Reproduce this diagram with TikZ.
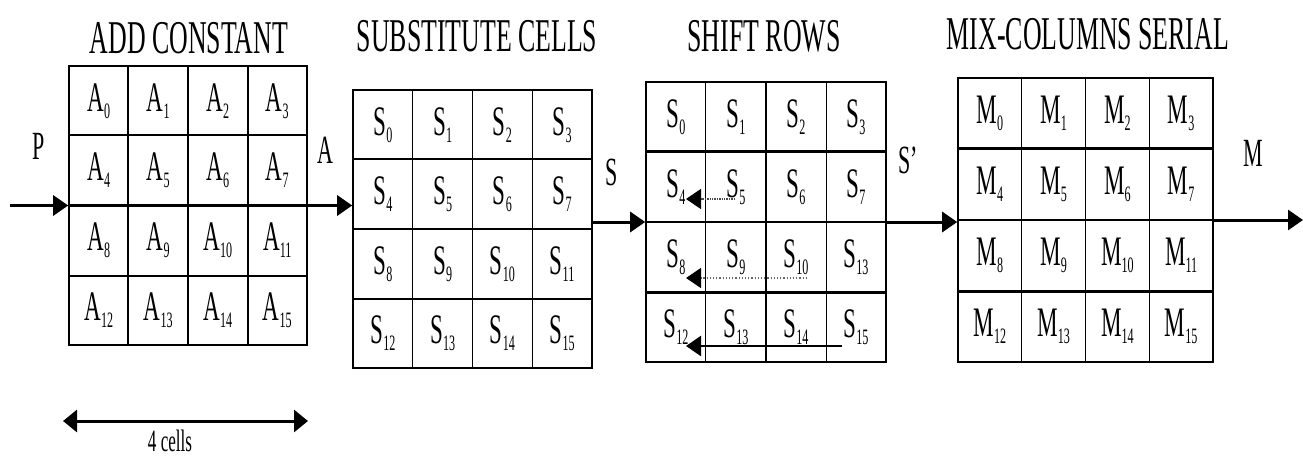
\documentclass[tikz,border=0pt]{standalone}
\usepackage{fontspec}
\setmainfont{Liberation Serif}[FakeStretch=0.55]
\usetikzlibrary{arrows.meta,calc}
\newcommand\lowsub[1]{\raisebox{-7pt}{\fontsize{22}{22}\selectfont #1}}
\tikzset{
  gridbox/.style={draw, line width=1.6pt, inner sep=0pt},
  cell/.style={font=\fontsize{42}{42}\selectfont, inner sep=0pt},
  ttl/.style={font=\fontsize{47}{47}\selectfont, inner sep=0pt},
  lbl/.style={font=\fontsize{40}{40}\selectfont, inner sep=0pt},
  hline/.style={line width=2.2pt},
  vline/.style={line width=1.3pt},
  arr/.style={line width=3pt, -{Triangle[length=15pt,width=20pt]}},
  dblarr/.style={line width=3pt, {Triangle[length=14pt,width=22pt]}-{Triangle[length=14pt,width=22pt]}},
  shiftarr/.style={-{Triangle[length=15pt,width=20pt,color=black]}},
}
\newcommand\mkgrid[5]{%
  \node[gridbox, minimum width={(#4-#2)*1pt}, minimum height={(#5-#3)*1pt}] (#1) at ({(#2+#4)/2},{(#3+#5)/2}) {};
  \foreach \k in {1,2,3} {
    \draw[hline] ($(#1.north west)!\k/4!(#1.south west)$) -- ($(#1.north east)!\k/4!(#1.south east)$);
    \draw[vline] ($(#1.north west)!\k/4!(#1.north east)$) -- ($(#1.south west)!\k/4!(#1.south east)$);
  }
}
\newcommand\mkcells[7]{%
  \foreach \t [count=\i from 0] in {#7} {
    \pgfmathsetmacro\cx{#2+(mod(\i,4)+0.5)*(#4-#2)/4}
    \pgfmathsetmacro\cy{#3+(int(\i/4)+0.5)*(#5-#3)/4}
    \node[cell] (#1c\i) at (\cx,\cy) {#6\lowsub{\t}};
  }
}
\begin{document}
\begin{tikzpicture}[x=1pt,y=-1pt]
\useasboundingbox[fill=white] (0,0) rectangle (1303,457);

% grids
\mkgrid{g1}{69}{66}{307}{345}
\mkgrid{g2}{353}{90}{592}{368}
\mkgrid{g3}{646}{82}{886}{362}
\mkgrid{g4}{958}{78}{1213}{362}

\mkcells{g1}{69}{66}{307}{345}{A}{0,1,2,3,4,5,6,7,8,9,10,11,12,13,14,15}
\mkcells{g2}{353}{90}{592}{368}{S}{0,1,2,3,4,5,6,7,8,9,10,11,12,13,14,15}
\mkcells{g3}{646}{82}{886}{362}{S}{0,1,2,3,4,5,6,7,8,9,10,13,12,13,14,15}
\mkcells{g4}{958}{78}{1213}{362}{M}{0,1,2,3,4,5,6,7,8,9,10,11,12,13,14,15}

% titles
\node[ttl] (t1) at (189,38) {ADD CONSTANT};
\node[ttl] (t2) at (477,36) {SUBSTITUTE CELLS};
\node[ttl] (t3) at (764,36) {SHIFT ROWS};
\node[ttl] (t4) at (1088,34) {MIX-COLUMNS SERIAL};

% labels
\node[lbl] (lp) at (39,146) {P};
\node[lbl] (la) at (325,150) {A};
\node[lbl] (ls) at (612,172) {S};
\node[lbl] (lsp) at (908,160) {S'};
\node[lbl] (lm) at (1253,153) {M};

% main arrows
\coordinate (pin) at (10,205.5);
\coordinate (mout) at (1303,220);
\draw[arr] (pin) -- (g1.west);
\draw[arr] (g1.east) -- (g1.east -| g2.west);
\draw[arr] (g3.west -| g2.east) -- (g3.west);
\draw[arr] (g3.east) -- (g3.east -| g4.west);
\draw[arr] (g4.east) -- (mout);

% shift arrows
\coordinate (r1s) at (735,199);
\coordinate (r1e) at (686,199);
\coordinate (r2s) at (807,278);
\coordinate (r2e) at (686,278);
\coordinate (r3s) at (842,346);
\coordinate (r3e) at (686,346);
\draw[shiftarr, line width=1.4pt, densely dotted, draw=black!70] (r1s) -- (r1e);
\draw[shiftarr, line width=1.2pt, dotted, draw=black!60] (r2s) -- (r2e);
\draw[shiftarr, line width=2.2pt] (r3s) -- (r3e);

% 4 cells
\coordinate (wl) at (63,421);
\coordinate (wr) at (308,421);
\draw[dblarr] (wl) -- (wr);
\node[font=\fontsize{31}{31}\selectfont, inner sep=0pt] (wc) at (170,441) {4 cells};
\end{tikzpicture}
\end{document}
